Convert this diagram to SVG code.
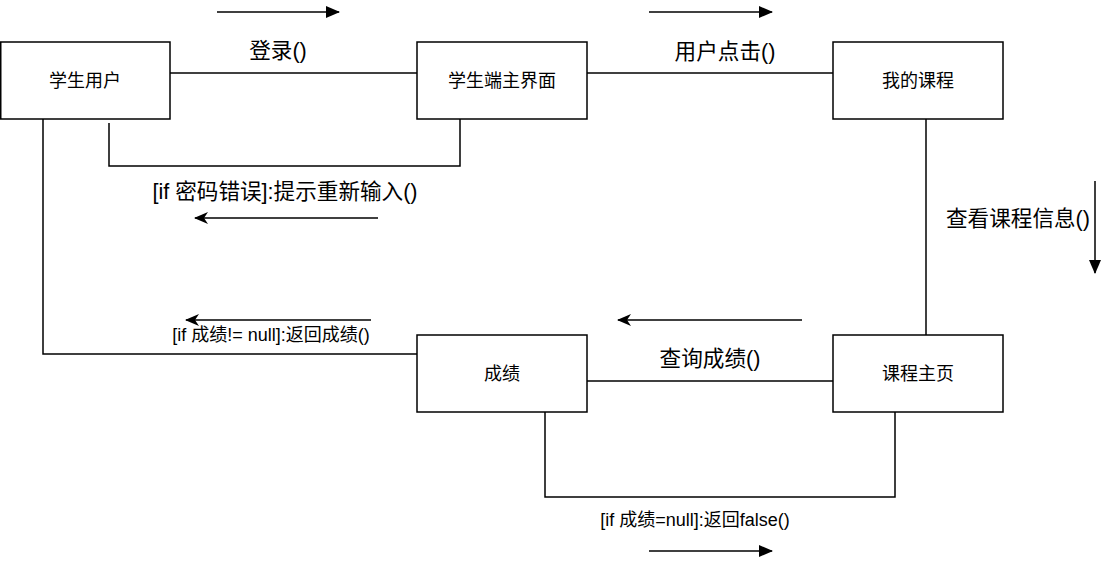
<svg xmlns="http://www.w3.org/2000/svg" width="1109" height="565" viewBox="0 0 1109 565">
<style>
.box{fill:#fff;stroke:#000;stroke-width:1.5}
.ln{fill:none;stroke:#000;stroke-width:1.5}
.nt{font-family:"Liberation Sans","Noto Sans CJK SC",sans-serif;font-size:18px;fill:#000;text-anchor:middle;dominant-baseline:central}
.lb{font-family:"Liberation Sans","Noto Sans CJK SC",sans-serif;font-size:21.6px;fill:#000;text-anchor:middle;dominant-baseline:central}
.ls{font-family:"Liberation Sans","Noto Sans CJK SC",sans-serif;font-size:18px;fill:#000;text-anchor:middle;dominant-baseline:central}
</style>
<defs>
<marker id="block" markerWidth="14" markerHeight="12" refX="13" refY="6" orient="auto" markerUnits="userSpaceOnUse">
<path d="M0,0 L14,6 L0,12 Z" fill="#000"/>
</marker>
<marker id="classic" markerWidth="14" markerHeight="12" refX="13" refY="6" orient="auto" markerUnits="userSpaceOnUse">
<path d="M0,0 L14,6 L0,12 L4,6 Z" fill="#000"/>
</marker>
</defs>
<rect width="1109" height="565" fill="#fff"/>
<g id="connectors">
<path class="ln" d="M170,73 H417"/>
<path class="ln" d="M587,73 H833"/>
<path class="ln" d="M460,119 V166 H109 V123"/>
<path class="ln" d="M926,119 V335"/>
<path class="ln" d="M43,119 V354 H417"/>
<path class="ln" d="M587,381 H833"/>
<path class="ln" d="M895,412 V497 H545 V412"/>
<path class="ln" d="M217,12 H339" marker-end="url(#block)"/>
<path class="ln" d="M649,12 H772" marker-end="url(#block)"/>
<path class="ln" d="M378,218 H195" marker-end="url(#classic)"/>
<path class="ln" d="M371,320 H186" marker-end="url(#classic)"/>
<path class="ln" d="M802,320 H618" marker-end="url(#classic)"/>
<path class="ln" d="M649,551 H772" marker-end="url(#block)"/>
<path class="ln" d="M1095,181 V273" marker-end="url(#block)"/>
<text class="lb" x="278" y="50">登录()</text>
<text class="lb" x="725" y="51">用户点击()</text>
<text class="lb" x="285" y="191">[if 密码错误]:提示重新输入()</text>
<text class="lb" x="1018" y="218">查看课程信息()</text>
<text class="ls" x="271" y="335">[if 成绩!= null]:返回成绩()</text>
<text class="lb" x="710" y="358">查询成绩()</text>
<text class="ls" x="695" y="520">[if 成绩=null]:返回false()</text>
</g>
<g id="node-student">
<rect class="box" x="0.75" y="42" width="169.25" height="77"/>
<text class="nt" x="85" y="80.5">学生用户</text>
</g>
<g id="node-main">
<rect class="box" x="417" y="42" width="170" height="77"/>
<text class="nt" x="502" y="80.5">学生端主界面</text>
</g>
<g id="node-mycourse">
<rect class="box" x="833" y="42" width="170" height="77"/>
<text class="nt" x="918" y="80.5">我的课程</text>
</g>
<g id="node-grade">
<rect class="box" x="417" y="335" width="170" height="77"/>
<text class="nt" x="502" y="373.5">成绩</text>
</g>
<g id="node-coursehome">
<rect class="box" x="833" y="335" width="170" height="77"/>
<text class="nt" x="918" y="373.5">课程主页</text>
</g>
</svg>
